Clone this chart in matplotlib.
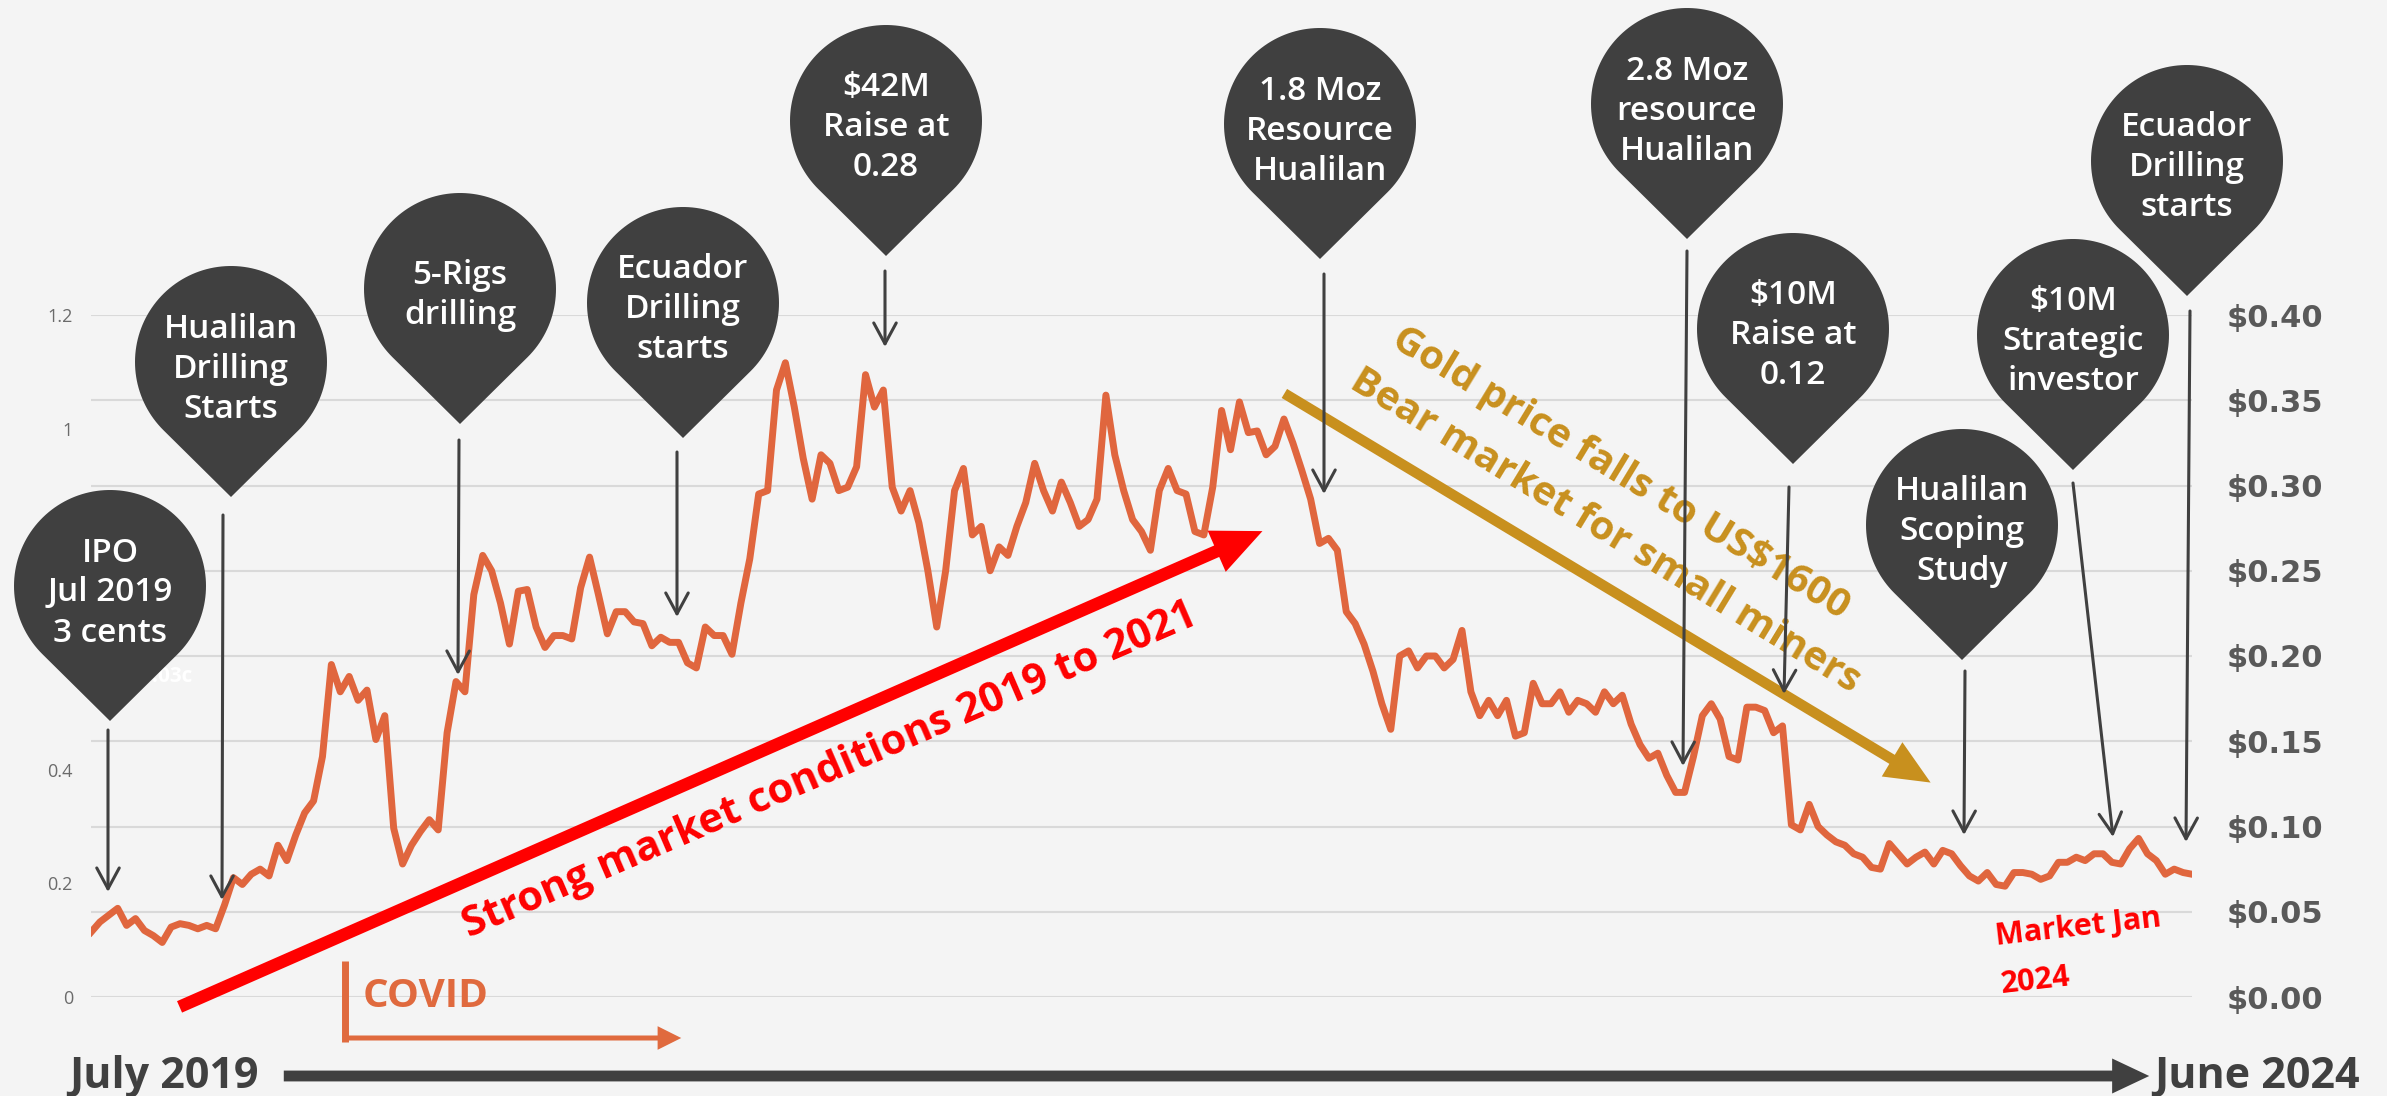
import numpy as np
import pandas as pd
import matplotlib
matplotlib.use("Agg")
import matplotlib.pyplot as plt
import matplotlib.transforms as mtransforms
from matplotlib.path import Path
from matplotlib.patches import PathPatch, FancyArrowPatch
from matplotlib.lines import Line2D

# weekly share price (A$), mid Jul 2019 to Jan 2024
price = [
    0.038, 0.044, 0.048, 0.052, 0.042, 0.046, 0.039, 0.036, 0.032, 0.041,
    0.043, 0.042, 0.040, 0.042, 0.040, 0.054, 0.070, 0.066, 0.072, 0.075,
    0.071, 0.089, 0.080, 0.095, 0.108, 0.115, 0.141, 0.195, 0.179, 0.188,
    0.174, 0.180, 0.151, 0.165, 0.099, 0.078, 0.089, 0.097, 0.104, 0.098,
    0.155, 0.185, 0.179, 0.236, 0.259, 0.250, 0.231, 0.207, 0.238,
    0.239, 0.217, 0.205, 0.212, 0.212, 0.210, 0.240, 0.258, 0.236, 0.213,
    0.226, 0.226, 0.220, 0.219, 0.206, 0.211, 0.208, 0.208, 0.196, 0.193,
    0.217, 0.212, 0.212, 0.201, 0.231, 0.257, 0.295, 0.297, 0.356, 0.372,
    0.346, 0.316, 0.292, 0.318, 0.313, 0.297, 0.299, 0.311, 0.365, 0.346,
    0.356, 0.299, 0.285, 0.297, 0.278, 0.250, 0.217, 0.250, 0.297,
    0.310, 0.271, 0.276, 0.250, 0.264, 0.259, 0.276, 0.290, 0.313, 0.297,
    0.285, 0.302, 0.290, 0.276, 0.280, 0.292, 0.353, 0.318, 0.297, 0.280,
    0.273, 0.262, 0.297, 0.310, 0.297, 0.295, 0.273, 0.271, 0.299, 0.344,
    0.321, 0.349, 0.331, 0.332, 0.318, 0.323, 0.339, 0.325, 0.309, 0.292,
    0.266, 0.269, 0.262, 0.226, 0.219, 0.207, 0.191, 0.172,
    0.157, 0.200, 0.203, 0.193, 0.200, 0.200, 0.193, 0.198, 0.215, 0.179,
    0.165, 0.174, 0.165, 0.174, 0.153, 0.155, 0.184, 0.172, 0.172, 0.179,
    0.167, 0.174, 0.172, 0.167, 0.179, 0.172, 0.177, 0.160, 0.148, 0.140,
    0.143, 0.130, 0.120, 0.120, 0.141, 0.165, 0.172, 0.163, 0.141, 0.139,
    0.170, 0.170, 0.168, 0.155, 0.159, 0.101, 0.098, 0.113,
    0.100, 0.095, 0.091, 0.089, 0.084, 0.082, 0.076, 0.075, 0.090, 0.084,
    0.078, 0.082, 0.085, 0.078, 0.086, 0.084, 0.077, 0.071, 0.068, 0.073,
    0.066, 0.065, 0.073, 0.073, 0.072, 0.069, 0.071, 0.079, 0.079, 0.082,
    0.080, 0.084, 0.084, 0.079, 0.078, 0.087, 0.093, 0.084, 0.080, 0.072,
    0.075, 0.073, 0.072,
]
start_date = "2019-07-19"

price_ticks = [0.00, 0.05, 0.10, 0.15, 0.20, 0.25, 0.30, 0.35, 0.40]
left_ticks = [0, 0.2, 0.4, 1.0, 1.2]   # 0.6 and 0.8 sit under the IPO pin

event_labels = [
    "IPO\nJul 2019\n3 cents",
    "Hualilan\nDrilling\nStarts",
    "5-Rigs\ndrilling",
    "Ecuador\nDrilling\nstarts",
    "\\$42M\nRaise at\n0.28",
    "1.8 Moz\nResource\nHualilan",
    "2.8 Moz\nresource\nHualilan",
    "\\$10M\nRaise at\n0.12",
    "Hualilan\nScoping\nStudy",
    "\\$10M\nStrategic\ninvestor",
    "Ecuador\nDrilling\nstarts",
]

# ---- layout (figure pixels, y measured from the top) ----
W, H, DPI = 2387, 1096, 100
pin_xy = [(110, 586), (231, 362), (460, 289), (683, 303), (886, 121),
          (1320, 124), (1687, 104), (1793, 329), (1962, 525), (2073, 335),
          (2187, 161)]
arrow_from = [(108, 730), (223, 515), (459, 440), (677, 452), (885, 271),
              (1324, 274), (1687, 251), (1789, 487), (1965, 671), (2073, 483),
              (2190, 311)]
arrow_to = [(108, 892), (222, 900), (458, 675), (677, 617), (885, 347),
            (1324, 494), (1683, 766), (1784, 694), (1964, 835), (2113, 837),
            (2186, 842)]

BG = "#F4F4F4"
DARK = "#404040"
LINE = "#E0663E"
GOLD = "#C8901E"
RED = "#FF0000"

plt.rcParams["font.family"] = ["Open Sans", "DejaVu Sans"]

fig = plt.figure(figsize=(W / DPI, H / DPI), dpi=DPI, facecolor=BG)
px = mtransforms.Affine2D().scale(1 / W, -1 / H).translate(0, 1) + fig.transFigure

ax = fig.add_axes([91 / W, 1 - 997 / H, (2192 - 91) / W, (997 - 315) / H])
ax.set_facecolor(BG)
dates = pd.date_range(start_date, periods=len(price), freq="7D")
ax.plot(dates, price, color=LINE, lw=5, solid_joinstyle="round", zorder=3)
ax.set_xlim(dates[0], dates[-1])
ax.set_ylim(0, 0.40)
ax.set_xticks([])
for s in ax.spines.values():
    s.set_visible(False)
ax.grid(axis="y", color="#D9D9D9", lw=1.5)
ax.set_axisbelow(True)
ax.yaxis.tick_right()
ax.set_yticks(price_ticks)
ax.set_yticklabels([f"\\${v:.2f}" for v in price_ticks], fontfamily="DejaVu Sans",
                   fontweight="bold", fontsize=22, color="#595959")
ax.tick_params(axis="y", length=0, pad=25)

sec = ax.secondary_yaxis("left", functions=(lambda v: v * 3, lambda v: v / 3))
sec.set_yticks(left_ticks)
sec.set_yticklabels([f"{v:g}" for v in left_ticks], fontsize=13, color="#6B6B6B")
sec.tick_params(length=0, pad=13)
for s in sec.spines.values():
    s.set_visible(False)

# faint label left over under the IPO pin
fig.text(140, 677, "0.03c", transform=px, color="white", fontsize=15,
         fontweight="bold", va="center", zorder=0.5)


def pin(cx, cy, r=96, d=135):
    b = np.arccos(r / d)
    t = np.linspace(-np.pi / 2 + b, 1.5 * np.pi - b, 120)
    v = np.column_stack([cx + r * np.cos(t), cy - r * np.sin(t)])
    v = np.vstack([v, [cx, cy + d], v[:1]])
    codes = [Path.MOVETO] + [Path.LINETO] * (len(v) - 2) + [Path.CLOSEPOLY]
    return PathPatch(Path(v, codes), transform=px, fc=DARK, ec="none", zorder=4)


for label, (cx, cy) in zip(event_labels, pin_xy):
    fig.add_artist(pin(cx, cy))
    fig.text(cx, cy + 7, label, transform=px, ha="center", va="center",
             color="white", fontsize=24, fontweight="semibold",
             linespacing=1.28, zorder=5)

for p0, p1 in zip(arrow_from, arrow_to):
    fig.add_artist(FancyArrowPatch(p0, p1, transform=px,
                                   arrowstyle="->,head_length=0.5,head_width=0.27",
                                   mutation_scale=30, lw=2.2, color=DARK,
                                   shrinkA=0, shrinkB=0, zorder=6))

# market trend arrows
fig.add_artist(FancyArrowPatch((177, 1008), (1265, 530), transform=px,
                               arrowstyle="simple,head_length=1.0,head_width=0.9,tail_width=0.25",
                               mutation_scale=36, fc=RED, ec="none", zorder=2))
fig.text(834, 781, "Strong market conditions 2019 to 2021", transform=px,
         rotation=23.3, rotation_mode="anchor", ha="center", va="baseline",
         color=RED, fontsize=30, fontweight="bold", zorder=2)

fig.add_artist(FancyArrowPatch((1282, 392), (1933, 784), transform=px,
                               arrowstyle="simple,head_length=0.9,head_width=0.8,tail_width=0.21",
                               mutation_scale=36, fc=GOLD, ec="none", zorder=2))
fig.text(1615, 482, "Gold price falls to US\\$1600", transform=px,
         rotation=-31.3, rotation_mode="anchor", ha="center", va="baseline",
         color=GOLD, fontsize=29, fontweight="bold", zorder=2)
fig.text(1600, 540, "Bear market for small miners", transform=px,
         rotation=-31.3, rotation_mode="anchor", ha="center", va="baseline",
         color=GOLD, fontsize=29, fontweight="bold", zorder=2)

# COVID marker
fig.add_artist(Line2D([345, 345], [961, 1042], transform=px, color="#E06A3E",
                      lw=5, solid_capstyle="butt", zorder=2))
fig.add_artist(FancyArrowPatch((343, 1038), (684, 1038), transform=px,
                               arrowstyle="simple,head_length=0.85,head_width=0.85,tail_width=0.18",
                               mutation_scale=20, fc="#E06A3E", ec="none", zorder=2))
fig.text(363, 1007, "COVID", transform=px, ha="left", va="baseline",
         color="#E06A3E", fontsize=29, fontweight="bold")

fig.text(1996, 945, "Market Jan", transform=px, rotation=6.5, rotation_mode="anchor",
         ha="left", va="baseline", color=RED, fontsize=22, fontweight="bold")
fig.text(2002, 993, "2024", transform=px, rotation=6.5, rotation_mode="anchor",
         ha="left", va="baseline", color=RED, fontsize=22, fontweight="bold")

# time axis arrow
fig.add_artist(FancyArrowPatch((281, 1076), (2152, 1076), transform=px,
                               arrowstyle="simple,head_length=0.89,head_width=0.84,tail_width=0.26",
                               mutation_scale=30, fc=DARK, ec="none", zorder=2))
fig.text(69, 1088, "July 2019", transform=px, ha="left", va="baseline",
         color=DARK, fontsize=31, fontweight="bold")
fig.text(2154, 1088, "June 2024", transform=px, ha="left", va="baseline",
         color=DARK, fontsize=31, fontweight="bold")

fig.savefig("out.png", dpi=DPI, facecolor=BG)
